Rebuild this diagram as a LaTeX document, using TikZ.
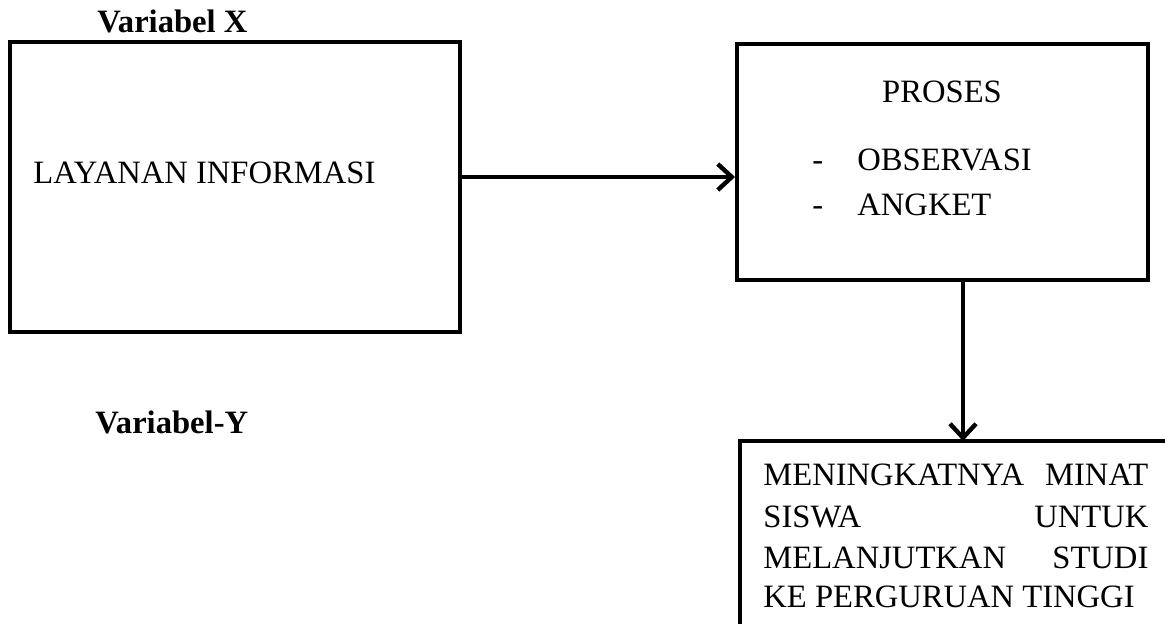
\documentclass[tikz,border=0pt]{standalone}
\usepackage{fontspec}
\setmainfont{Liberation Serif}
\usetikzlibrary{arrows.meta}
\begin{document}
\begin{tikzpicture}[x=0.5pt,y=-0.5pt,
  box/.style={draw,line width=2pt,inner sep=0pt},
  txt/.style={anchor=base west,inner sep=0pt,font=\fontsize{16.3pt}{20.5pt}\selectfont},
  btxt/.style={txt,font=\fontsize{16.3pt}{20.5pt}\selectfont\bfseries},
  arr/.style={line width=2pt,-{Straight Barb[length=7pt,width=13pt,line width=2.2pt]}}]
\fill[white] (0,0) rectangle (1165,623);
\useasboundingbox (0,0) rectangle (1165,623);
% boxes
\node[box,minimum width=225pt,minimum height=145pt] (lay) at (235,187) {};
\node[box,minimum width=205.5pt,minimum height=118pt] (proc) at (942.5,162) {};
\draw[line width=2pt] (1170,441) -| (740,628);
\coordinate (outtop) at (963,441);
% texts
\node[btxt] (vx) at (97,32) {Variabel X};
\node[btxt] (vy) at (95,433) {Variabel-Y};
\node[txt] (layt) at (33,183) {LAYANAN INFORMASI};
\node[txt,anchor=base] (prt) at (942,102) {PROSES};
\node[txt] (d1) at (812,170) {-};
\node[txt] (obs) at (857,170) {OBSERVASI};
\node[txt] (d2) at (812,215) {-};
\node[txt] (ang) at (857,215) {ANGKET};
\node[txt] (o1) at (763,485) {\hbox to 192.5pt{MENINGKATNYA\hfill MINAT}};
\node[txt] (o2) at (763,527) {\hbox to 192.5pt{SISWA\hfill UNTUK}};
\node[txt] (o3) at (763,568) {\hbox to 192.5pt{MELANJUTKAN\hfill STUDI}};
\node[txt] (o4) at (763,607) {KE PERGURUAN TINGGI};
% connectors
\draw[arr] (lay.east |- 0,177) -- (proc.west |- 0,177);
\draw[arr] (outtop |- proc.south) -- (outtop);
\end{tikzpicture}
\end{document}
